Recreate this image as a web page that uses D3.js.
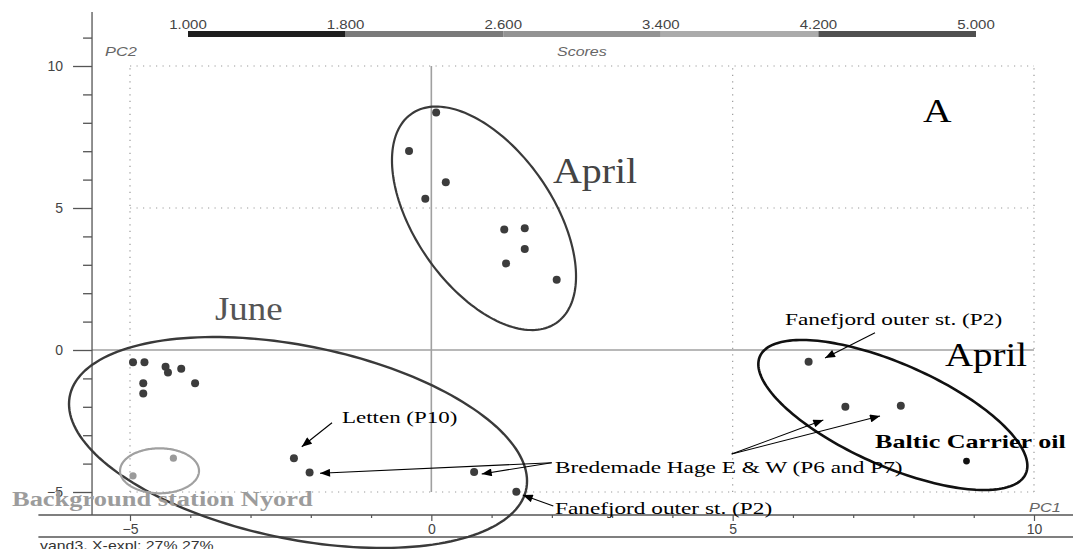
<!DOCTYPE html>
<html>
<head>
<meta charset="utf-8">
<script src="https://cdn.jsdelivr.net/npm/d3@7"></script>
<style>
  html, body { margin: 0; padding: 0; background: #fff; }
  svg { display: block; }
</style>
</head>
<body>
<svg id="chart" width="1073" height="549"></svg>
<script>
// ---- score values (PC1, PC2) per sampling group ----
const aprilPC1 = [0.08, -0.37, 0.24, -0.10, 1.21, 1.55, 1.55, 1.24, 2.08];
const aprilPC2 = [8.36, 7.01, 5.91, 5.33, 4.24, 4.29, 3.56, 3.05, 2.47];

const junePC1 = [-4.95, -4.76, -4.41, -4.37, -4.15, -4.78, -4.78, -3.92, -2.28, -2.02, 0.71, 1.41];
const junePC2 = [-0.43, -0.43, -0.59, -0.79, -0.66, -1.17, -1.53, -1.17, -3.81, -4.31, -4.30, -4.99];

const nyordPC1 = [-4.28, -4.95];
const nyordPC2 = [-3.81, -4.43];

const balticPC1 = [6.26, 6.87, 7.79];
const balticPC2 = [-0.41, -2.00, -1.96];

const oilPC1 = [8.88];
const oilPC2 = [-3.91];

// ---- grouping ellipses: centre and two semi-axis vectors, in score units ----
const ellipseNames = ["April", "June", "Baltic", "Nyord"];
const ellipseCX = [0.874, -2.212, 7.658, -4.510];
const ellipseCY = [4.637, -3.257, -2.289, -4.254];
const ellipseU = [[1.527, -2.042], [3.800, -1.356], [2.232, -1.789], [0.655, 0]];
const ellipseV = [[0, -3.363], [0, -3.458], [0, -1.944], [0, -0.792]];

// ---- axes and score legend ----
const pc1Ticks = [-5, 0, 5, 10];
const pc2Ticks = [-5, 0, 5, 10];
const pc1Grid = [-5, 5, 10];
const pc2Grid = [-5, 5, 10];
const scoreBreaks = [1.0, 1.8, 2.6, 3.4, 4.2, 5.0];
const scoreColors = ["#1e1e1e", "#7a7a7a", "#939393", "#ababab", "#505050"];

// ---- annotation arrows: start and tip in score units ----
const arrowFrom = [[-1.648, -2.560], [1.998, -3.968], [1.998, -3.968], [4.984, -3.662], [4.984, -3.662], [7.362, 0.609], [2.024, -5.493]];
const arrowTo   = [[-2.150, -3.405], [-1.847, -4.342], [0.836, -4.366], [6.504, -2.465], [7.445, -2.324], [6.533, -0.282], [1.517, -5.106]];

// ---- text labels anchored in score units ----
const labelText = ["April", "April", "June", "A", "Letten (P10)", "Bredemade Hage E & W (P6 and P7)",
  "Fanefjord outer st. (P2)", "Fanefjord outer st. (P2)", "Baltic Carrier oil", "Background station Nyord"];
const labelPC1 = [2.019, 8.523, -3.590, 8.158, -1.482, 2.052, 2.052, 5.868, 7.362, -6.958];
const labelPC2 = [5.880, -0.563, 1.056, 8.028, -2.570, -4.331, -5.775, 0.880, -3.451, -5.493];

// ---- layout ----
const svg = d3.select("#chart");
const x = d3.scaleLinear().domain([-5, 10]).range([130, 1034]);
const y = d3.scaleLinear().domain([-5, 10]).range([492, 66]);
const sans = "'Liberation Sans', Arial, sans-serif";
const serif = "'Liberation Serif', 'Times New Roman', serif";

const axisLeftPC1 = -5.63;     // where the vertical PC2 axis sits
const axisTopPC2 = 11.9;
const axisBottomPC2 = -5.81;   // where the horizontal PC1 axis sits
const axisStartPC1 = -6.52;
const axisEndPC1 = 10.65;

// stretched text helper
function stretchText(parent, px, py, str, o) {
  const g = parent.append("g")
    .attr("transform", `translate(${px},${py}) scale(${o.sx || 1},1)`);
  return g.append("text")
    .attr("text-anchor", o.anchor || "start")
    .attr("font-family", o.family || sans)
    .attr("font-size", o.size || 12)
    .attr("font-style", o.style || "normal")
    .attr("font-weight", o.weight || "normal")
    .attr("fill", o.fill || "#444")
    .text(str);
}

// ---- score legend bar ----
const sc = d3.scaleLinear().domain([1, 5]).range([188, 976]);
const legend = svg.append("g");
legend.selectAll("rect").data(d3.pairs(scoreBreaks)).join("rect")
  .attr("x", d => sc(d[0])).attr("y", 31)
  .attr("width", d => sc(d[1]) - sc(d[0])).attr("height", 6)
  .attr("fill", (d, i) => scoreColors[i]);
scoreBreaks.forEach(v => stretchText(legend, sc(v), 29, d3.format(".3f")(v), { size: 12, sx: 1.25, anchor: "middle", fill: "#444" }));
stretchText(legend, 557, 56, "Scores", { size: 13, sx: 1.23, style: "italic", fill: "#666" });
stretchText(svg, 105, 56, "PC2", { size: 13, sx: 1.26, style: "italic", fill: "#666" });
stretchText(svg, 1029, 512, "PC1", { size: 13, sx: 1.26, style: "italic", fill: "#666" });

// ---- dotted grid ----
const grid = svg.append("g").attr("stroke", "#9a9a9a").attr("stroke-width", 1.2).attr("stroke-dasharray", "1.2,5.3");
grid.selectAll(".gv").data(pc1Grid).join("line").attr("class", "gv")
  .attr("x1", d => x(d)).attr("x2", d => x(d)).attr("y1", y(-5)).attr("y2", y(10));
grid.selectAll(".gh").data(pc2Grid).join("line").attr("class", "gh")
  .attr("y1", d => y(d)).attr("y2", d => y(d)).attr("x1", x(-5)).attr("x2", x(10));

// ---- zero lines ----
const zero = svg.append("g").attr("stroke", "#a0a0a0").attr("stroke-width", 1.6);
zero.append("line").attr("x1", x(0)).attr("x2", x(0)).attr("y1", y(-5)).attr("y2", y(10));
zero.append("line").attr("x1", x(axisLeftPC1)).attr("x2", x(10)).attr("y1", y(0)).attr("y2", y(0));

// ---- PC2 axis ----
const yAxisG = svg.append("g").attr("transform", `translate(${x(axisLeftPC1)},0)`);
yAxisG.append("g").call(d3.axisLeft(y).tickValues(pc2Ticks).tickSize(19).tickPadding(10))
  .call(g => g.select(".domain").remove())
  .call(g => g.selectAll("line").attr("stroke", "#555").attr("stroke-width", 1.3))
  .call(g => g.selectAll("text").attr("font-family", sans).attr("font-size", 14).attr("fill", "#444"));
yAxisG.append("g").call(d3.axisLeft(y).tickValues(d3.range(-5, 12).filter(v => !pc2Ticks.includes(v))).tickSize(9).tickFormat(""))
  .call(g => g.select(".domain").remove())
  .call(g => g.selectAll("line").attr("stroke", "#555").attr("stroke-width", 1.3));
yAxisG.append("line").attr("y1", y(axisTopPC2)).attr("y2", y(axisBottomPC2))
  .attr("stroke", "#555").attr("stroke-width", 1.3);

// ---- PC1 axis ----
const xAxisG = svg.append("g").attr("transform", `translate(0,${y(axisBottomPC2)})`);
xAxisG.append("line").attr("x1", x(axisStartPC1)).attr("x2", x(axisEndPC1))
  .attr("stroke", "#555").attr("stroke-width", 1.3);
xAxisG.append("g").call(d3.axisBottom(x).tickValues(pc1Ticks).tickSize(6).tickPadding(3))
  .call(g => g.select(".domain").remove())
  .call(g => g.selectAll("line").attr("stroke", "#555").attr("stroke-width", 1.2))
  .call(g => g.selectAll("text").attr("font-family", sans).attr("font-size", 14).attr("fill", "#444"));
xAxisG.append("g").call(d3.axisBottom(x).tickValues(d3.range(-5, 11).filter(v => !pc1Ticks.includes(v))).tickSize(3).tickFormat(""))
  .call(g => g.select(".domain").remove())
  .call(g => g.selectAll("line").attr("stroke", "#555").attr("stroke-width", 1.2));

// frame line under the axis and explained-variance caption
svg.append("line").attr("x1", x(axisStartPC1)).attr("x2", x(axisEndPC1)).attr("y1", 537).attr("y2", 537)
  .attr("stroke", "#555").attr("stroke-width", 1.4);
stretchText(svg, 40, 550, "vand3, X-expl: 27% 27%", { size: 13, sx: 1.22, fill: "#333" });

// ---- ellipses ----
const ellipseStyle = {
  April: { stroke: "#3a3a3a", width: 2.2 },
  June: { stroke: "#3a3a3a", width: 2.4 },
  Baltic: { stroke: "#111", width: 2.6 },
  Nyord: { stroke: "#a0a0a0", width: 2.2 }
};
const ts = d3.range(0, 2 * Math.PI, Math.PI / 90);
const ellLine = d3.line().curve(d3.curveLinearClosed);
svg.append("g").selectAll("path").data(ellipseNames).join("path")
  .attr("d", (name, i) => ellLine(ts.map(t => {
    const px = ellipseCX[i] + ellipseU[i][0] * Math.cos(t) + ellipseV[i][0] * Math.sin(t);
    const py = ellipseCY[i] + ellipseU[i][1] * Math.cos(t) + ellipseV[i][1] * Math.sin(t);
    return [x(px), y(py)];
  })))
  .attr("fill", "none")
  .attr("stroke", d => ellipseStyle[d].stroke)
  .attr("stroke-width", d => ellipseStyle[d].width);

// ---- score points ----
function drawPoints(xs, ys, fill, r) {
  svg.append("g").selectAll("circle").data(xs.map((v, i) => [v, ys[i]])).join("circle")
    .attr("cx", d => x(d[0])).attr("cy", d => y(d[1])).attr("r", r).attr("fill", fill);
}
drawPoints(aprilPC1, aprilPC2, "#3c3c3c", 4);
drawPoints(junePC1, junePC2, "#3c3c3c", 4);
drawPoints(nyordPC1, nyordPC2, "#9a9a9a", 3.6);
drawPoints(balticPC1, balticPC2, "#3c3c3c", 4);
drawPoints(oilPC1, oilPC2, "#111", 3.4);

// ---- arrows ----
svg.append("defs").append("marker")
  .attr("id", "head").attr("viewBox", "0 0 10 8").attr("refX", 10).attr("refY", 4)
  .attr("markerWidth", 11).attr("markerHeight", 8).attr("markerUnits", "userSpaceOnUse")
  .attr("orient", "auto")
  .append("path").attr("d", "M0,0 L10,4 L0,8 Z").attr("fill", "#000");
svg.append("g").selectAll("line").data(arrowFrom).join("line")
  .attr("x1", d => x(d[0])).attr("y1", d => y(d[1]))
  .attr("x2", (d, i) => x(arrowTo[i][0])).attr("y2", (d, i) => y(arrowTo[i][1]))
  .attr("stroke", "#000").attr("stroke-width", 1.1)
  .attr("marker-end", "url(#head)");

// ---- text labels ----
const labelStyle = [
  { size: 35, sx: 1.14, fill: "#444", family: serif },
  { size: 33, sx: 1.18, fill: "#000", family: serif },
  { size: 33, sx: 1.12, fill: "#555", family: serif },
  { size: 33, sx: 1.2, fill: "#000", family: serif },
  { size: 17, sx: 1.35, fill: "#000", family: serif },
  { size: 17, sx: 1.37, fill: "#000", family: serif },
  { size: 17, sx: 1.37, fill: "#000", family: serif },
  { size: 17, sx: 1.37, fill: "#000", family: serif },
  { size: 18, sx: 1.45, fill: "#000", family: serif, weight: "bold" },
  { size: 21, sx: 1.26, fill: "#9c9c9c", family: serif, weight: "bold" }
];
const labels = svg.append("g");
labelText.forEach((t, i) => stretchText(labels, x(labelPC1[i]), y(labelPC2[i]), t, labelStyle[i]));
</script>
</body>
</html>
